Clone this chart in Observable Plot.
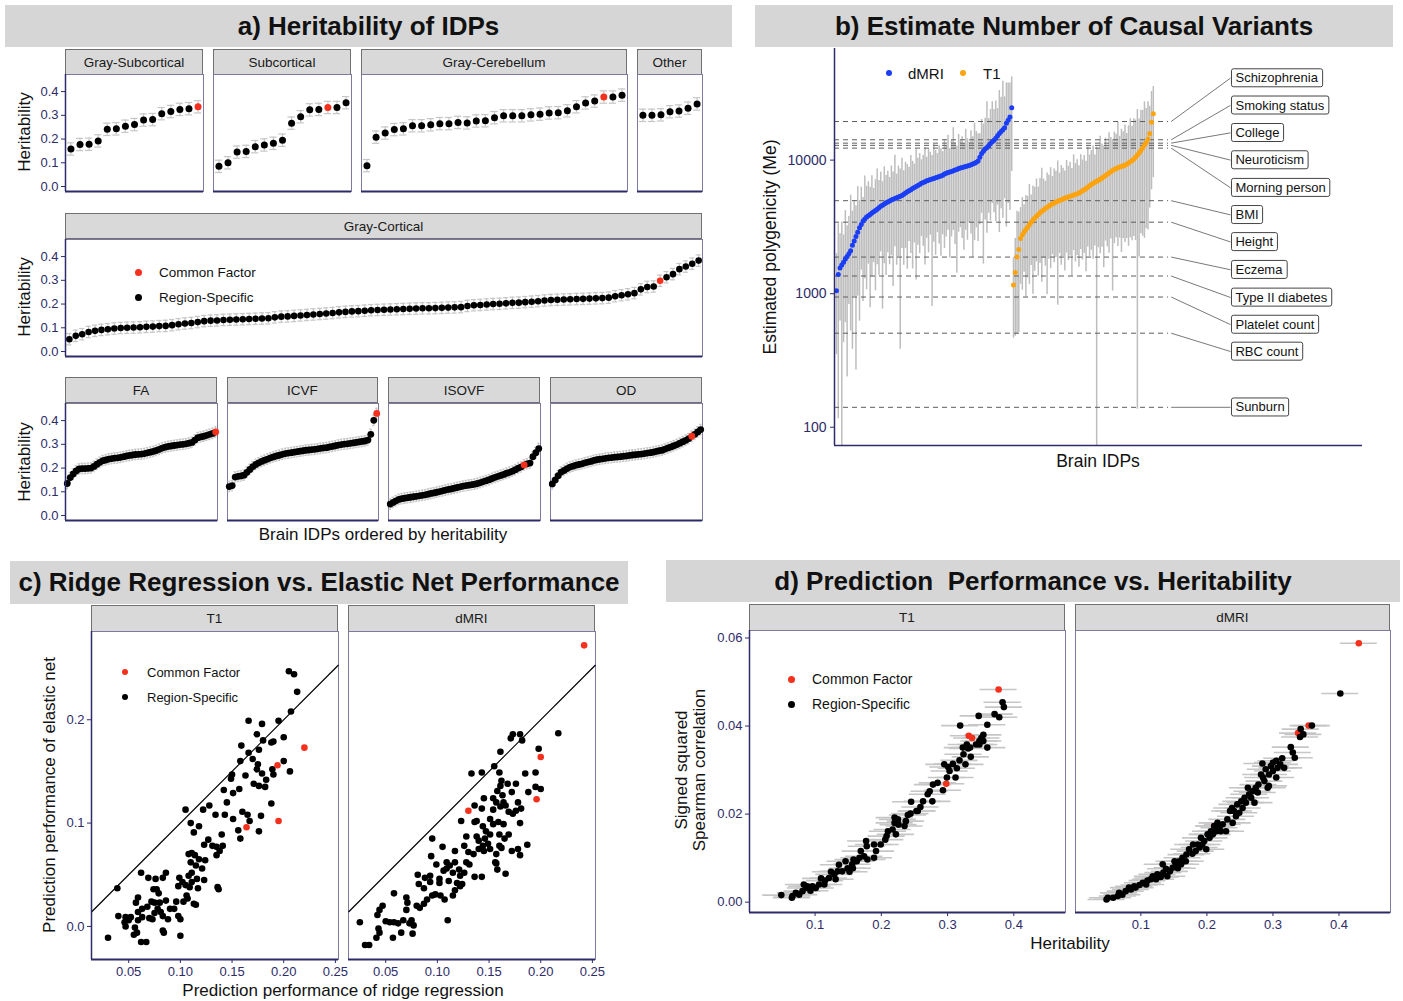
<!DOCTYPE html>
<html><head><meta charset="utf-8">
<script src="https://cdn.jsdelivr.net/npm/d3@7"></script>
<script src="https://cdn.jsdelivr.net/npm/@observablehq/plot@0.6"></script>
<style>
body{margin:0;background:#fff;}
#root{position:relative;width:1403px;height:1001px;overflow:hidden;background:#fff;font-family:"Liberation Sans",Arial,Helvetica,sans-serif;color:#111;}
.bar{position:absolute;background:#d6d6d6;display:flex;align-items:center;justify-content:center;font-weight:bold;font-size:26px;color:#111;white-space:pre;}
.strip{position:absolute;background:#d9d9d9;border:1px solid #707070;box-sizing:border-box;display:flex;align-items:center;justify-content:center;font-size:13.5px;color:#1a1a1a;}
.lab{position:absolute;white-space:nowrap;font-size:17px;color:#111;transform:translate(-50%,-50%);text-align:center;line-height:18px;}
.vlab{position:absolute;white-space:nowrap;font-size:17px;color:#111;transform:translate(-50%,-50%) rotate(-90deg);text-align:center;line-height:18px;}
.leg{position:absolute;white-space:nowrap;font-size:13.5px;color:#111;transform:translateY(-50%);}
.dot{position:absolute;border-radius:50%;}
</style>
</head><body><div id="root"></div>
<script>
// ---------------- DATA ----------------
// a) heritability per facet (sorted), common factor index per facet
const graySubcorticalH = [0.158,0.177,0.178,0.192,0.241,0.243,0.254,0.261,0.280,0.282,0.307,0.316,0.325,0.328,0.336];
const subcorticalH = [0.085,0.100,0.145,0.148,0.168,0.175,0.182,0.195,0.267,0.294,0.323,0.325,0.333,0.333,0.353];
const grayCerebellumH = [0.088,0.208,0.225,0.240,0.243,0.256,0.256,0.260,0.265,0.265,0.270,0.268,0.276,0.277,0.290,0.298,0.298,0.298,0.302,0.305,0.310,0.311,0.319,0.336,0.352,0.360,0.377,0.377,0.385];
const otherH = [0.300,0.300,0.302,0.315,0.318,0.330,0.348];
const grayCorticalH = [0.052,0.066,0.073,0.082,0.087,0.091,0.094,0.097,0.099,0.100,
 0.101,0.102,0.104,0.105,0.107,0.108,0.111,0.115,0.118,0.120,
 0.124,0.128,0.130,0.131,0.133,0.134,0.135,0.136,0.137,0.138,
 0.139,0.140,0.144,0.147,0.148,0.150,0.152,0.154,0.156,0.158,
 0.160,0.162,0.165,0.167,0.169,0.170,0.172,0.174,0.175,0.176,
 0.177,0.178,0.179,0.180,0.181,0.182,0.182,0.183,0.184,0.185,
 0.186,0.187,0.192,0.195,0.196,0.198,0.200,0.201,0.203,0.205,
 0.206,0.208,0.210,0.212,0.215,0.217,0.218,0.219,0.220,0.221,
 0.222,0.223,0.224,0.225,0.227,0.233,0.237,0.241,0.246,0.262,
 0.272,0.274,0.298,0.313,0.326,0.347,0.358,0.370,0.383];
const faH = [0.135,0.160,0.175,0.188,0.196,0.198,0.198,0.199,0.200,0.207,0.216,0.224,0.231,0.234,0.238,0.240,0.242,0.243,0.245,0.248,0.251,0.253,0.255,0.257,0.258,0.259,0.261,0.264,0.267,0.270,0.274,0.279,0.284,0.288,0.291,0.293,0.295,0.297,0.299,0.300,0.302,0.305,0.308,0.318,0.328,0.331,0.334,0.338,0.342,0.346,0.352];
const icvfH = [0.122,0.126,0.162,0.165,0.167,0.170,0.182,0.194,0.206,0.215,0.222,0.228,0.233,0.238,0.243,0.247,0.251,0.254,0.258,0.261,0.263,0.265,0.267,0.269,0.271,0.273,0.275,0.276,0.278,0.279,0.281,0.283,0.285,0.286,0.289,0.291,0.294,0.297,0.299,0.301,0.302,0.304,0.306,0.308,0.310,0.312,0.314,0.318,0.342,0.401,0.430];
const isovfH = [0.048,0.055,0.062,0.068,0.071,0.073,0.075,0.077,0.079,0.081,0.083,0.085,0.087,0.090,0.093,0.095,0.098,0.101,0.104,0.107,0.110,0.112,0.115,0.118,0.121,0.124,0.126,0.128,0.130,0.132,0.135,0.139,0.143,0.147,0.151,0.156,0.161,0.165,0.169,0.173,0.178,0.182,0.187,0.193,0.200,0.205,0.213,0.218,0.221,0.248,0.265,0.282];
const odH = [0.133,0.150,0.168,0.183,0.190,0.198,0.204,0.208,0.212,0.215,0.218,0.222,0.225,0.228,0.232,0.235,0.237,0.239,0.241,0.243,0.244,0.246,0.247,0.248,0.250,0.251,0.253,0.255,0.256,0.258,0.259,0.261,0.263,0.265,0.267,0.270,0.273,0.275,0.280,0.285,0.289,0.294,0.299,0.305,0.311,0.317,0.324,0.334,0.342,0.352,0.362];
const commonIdx = {graySub:14, sub:12, cereb:26, other:-1, cortical:92, fa:50, icvf:50, isovf:46, od:47};
const hSE = {row1:0.026, row2:0.024, row3:0.022};

// b) estimated polygenicity
const dmriMe = [1050,1390,1560,1640,1720,1820,1900,1990,2100,2300,
 2480,2680,2880,3110,3300,3500,3620,3750,3830,3920,
 4020,4100,4200,4290,4400,4520,4600,4690,4790,4860,
 4940,5020,5090,5170,5230,5300,5360,5440,5550,5670,
 5790,5900,6010,6130,6230,6340,6460,6580,6700,6800,
 6900,7010,7080,7150,7220,7280,7370,7450,7530,7610,
 7720,7860,7980,8070,8150,8230,8320,8420,8520,8660,
 8740,8810,8890,8960,9050,9130,9230,9340,9480,9620,
 9850,10500,11200,11650,12100,12450,12800,13300,13700,14100,
 14600,15200,15800,16400,16900,17500,18900,19900,21000,24700];
const dmriHiF = [1.9,2.4,1.8,2.1,1.6,2.3,1.7,1.9,2.6,1.8, 2.0,1.7,2.2,1.6,1.9,1.5,2.1,1.7,1.8,1.6,
 1.9,1.5,1.7,2.0,1.6,1.8,1.5,1.9,1.6,1.7, 1.5,1.8,1.6,2.1,1.5,1.7,1.6,1.9,1.5,1.7,
 1.6,1.5,1.8,1.6,1.5,1.9,1.6,1.7,1.5,1.6, 1.8,1.5,1.7,1.6,1.5,1.8,1.6,1.5,1.7,1.6,
 1.5,1.8,1.6,1.9,1.5,1.7,2.1,1.6,1.5,1.8, 1.6,1.7,1.5,1.9,1.6,1.5,1.8,1.6,2.0,1.7,
 1.6,1.5,1.8,1.6,1.7,2.2,1.6,1.8,2.0,1.7, 1.9,1.6,2.1,1.8,2.3,1.7,2.0,1.9,1.8,1.7];
const dmriLoF = [3.0,12,2.5,30,4,3,8,2.4,4,6, 2.6,10,3,5,2.2,4,2.8,3.5,2.3,5,
 3,2.4,4,2.6,3.2,2.2,6,2.8,3.5,2.4, 3,2.6,4.5,2.3,3.2,2.8,14,2.5,3.4,2.6,
 3.8,2.4,3,4,2.6,5,2.8,3.3,2.5,3, 4.2,2.7,3.5,2.6,9,3,3.8,2.6,3.2,4,
 2.8,3.6,3,2.7,4.4,3.1,2.8,3.6,6,3, 2.8,3.4,4.2,3,3.6,2.7,3.3,5,3.8,3.1,
 4,3.2,2.8,7,3.4,4.4,3.2,3.8,2.9,3.5, 4.2,3.3,5.5,3.8,4.6,3.4,6,4.2,5,3];
const t1Me = [1160,1440,1880,2140,2590,2760,2900,3020,3150,3290,
 3420,3560,3680,3800,3920,4040,4140,4240,4340,4440,
 4530,4620,4700,4770,4850,4920,4990,5060,5120,5180,
 5240,5300,5360,5420,5480,5540,5600,5680,5780,5890,
 6010,6130,6270,6420,6560,6700,6830,6950,7060,7180,
 7340,7510,7680,7850,8020,8200,8370,8520,8660,8780,
 8870,8960,9060,9170,9320,9500,9720,9950,10200,10500,
 10900,11300,11800,12400,13000,13500,14400,15800,19200,22200];
const t1HiF = [1.6,1.8,2.2,1.9,1.7,1.9,1.6,1.8,1.7,2.0, 1.6,1.8,1.7,1.9,1.6,1.8,2.1,1.7,1.6,1.8,
 1.7,1.9,1.6,1.8,1.7,2.0,1.6,1.8,1.7,1.6, 1.9,1.7,1.8,1.6,2.0,1.7,1.8,1.6,1.9,1.7,
 1.8,1.6,2.0,1.7,1.8,1.9,1.6,1.8,1.7,2.1, 1.8,1.7,1.9,1.6,2.0,1.8,1.7,1.9,1.8,2.2,
 1.7,1.9,1.8,2.0,1.7,1.9,2.1,1.8,2.0,1.9, 2.2,1.8,2.0,1.9,2.1,1.8,1.9,1.6,1.7,1.6];
const t1LoF = [2.5,3.0,3.8,4.2,2.2,2.6,2.0,3.2,2.4,2.8, 2.1,3.6,2.5,2.2,2.9,2.4,3.4,2.3,2.7,4.5,
 2.5,3.0,2.4,2.8,2.6,6,2.5,3.1,2.7,3.5, 2.6,3.0,2.8,4,2.6,3.2,2.9,3.6,2.7,3.3,
 3,4.2,2.8,3.4,3.1,3.7,3.0,200,3.2,3.6, 3.3,4.8,3.1,3.5,4.0,3.2,8,3.6,3.3,3.9,
 3.4,4.4,3.5,3.8,3.6,4.2,3.7,4.0,3.8,4.2, 80,6,4.2,4.6,5,4.4,4.8,3.6,3.2,3];
const traitNames = ["Schizophrenia","Smoking status","College","Neuroticism","Morning person","BMI","Height","Eczema","Type II diabetes","Platelet count","RBC count","Sunburn"];
const traitMe = [19450,14200,13400,12900,12300,4970,3430,1880,1356,944,506,141];
const traitLabelMe = [41100,25700,16000,10000,6210,3890,2440,1510,937,587,369,141];

// c) ridge (x) vs elastic net (y)
const cT1Common = [[0.194,0.156],[0.220,0.173],[0.195,0.102],[0.164,0.096]];
const cT1Region = [[0.205,0.247],[0.210,0.244],[0.213,0.227],[0.207,0.208],[0.195,0.199],[0.166,0.199],[0.179,0.196],[0.174,0.186],[0.180,0.180],[0.190,0.179],[0.200,0.183],[0.188,0.178],[0.159,0.175],[0.166,0.168],[0.176,0.171],[0.170,0.162],[0.158,0.160],[0.175,0.157],[0.174,0.152],[0.179,0.148],[0.189,0.152],[0.190,0.147],[0.200,0.160],[0.206,0.150],[0.150,0.147],[0.149,0.143],[0.163,0.146],[0.157,0.133],[0.171,0.138],[0.176,0.136],[0.182,0.135],[0.183,0.142],[0.142,0.132],[0.151,0.129],[0.145,0.120],[0.188,0.119],[0.128,0.117],[0.122,0.113],[0.105,0.113],[0.134,0.108],[0.143,0.108],[0.160,0.111],[0.165,0.108],[0.167,0.102],[0.178,0.107],[0.151,0.104],[0.176,0.092],[0.158,0.085],[0.156,0.093],[0.110,0.100],[0.118,0.097],[0.113,0.091],[0.140,0.089],[0.127,0.084],[0.123,0.079],[0.131,0.078],[0.135,0.077],[0.141,0.078],[0.138,0.073],[0.135,0.069],[0.108,0.070],[0.111,0.071],[0.114,0.069],[0.118,0.065],[0.124,0.064],[0.110,0.062],[0.115,0.059],[0.121,0.056],[0.111,0.052],[0.108,0.049],[0.116,0.046],[0.123,0.045],[0.111,0.043],[0.099,0.047],[0.102,0.043],[0.098,0.039],[0.105,0.040],[0.109,0.038],[0.117,0.037],[0.136,0.038],[0.137,0.036],[0.086,0.052],[0.083,0.047],[0.076,0.046],[0.069,0.047],[0.062,0.052],[0.074,0.036],[0.077,0.036],[0.079,0.032],[0.106,0.030],[0.103,0.024],[0.107,0.027],[0.113,0.022],[0.096,0.024],[0.086,0.025],[0.080,0.023],[0.075,0.023],[0.072,0.024],[0.068,0.019],[0.059,0.028],[0.057,0.023],[0.063,0.017],[0.078,0.017],[0.075,0.013],[0.073,0.007],[0.088,0.007],[0.070,0.008],[0.059,0.014],[0.052,0.009],[0.047,0.009],[0.040,0.010],[0.046,0.004],[0.047,0.000],[0.059,0.006],[0.056,-0.001],[0.058,-0.006],[0.055,-0.008],[0.062,-0.015],[0.067,-0.015],[0.083,-0.004],[0.084,-0.006],[0.098,0.010],[0.100,0.007],[0.100,-0.009],[0.039,0.037],[0.030,-0.011],[0.115,0.021],[0.090,0.017],[0.094,0.017],[0.081,0.014],[0.083,0.010],[0.063,0.009],[0.050,0.006]];
const cDmriCommon = [[0.242,0.272],[0.200,0.164],[0.196,0.123],[0.130,0.112]];
const cDmriRegion = [[0.217,0.187],[0.173,0.186],[0.171,0.182],[0.180,0.186],[0.182,0.180],[0.198,0.172],[0.161,0.169],[0.155,0.155],[0.143,0.149],[0.133,0.148],[0.160,0.149],[0.185,0.148],[0.195,0.149],[0.162,0.141],[0.168,0.138],[0.176,0.138],[0.161,0.136],[0.163,0.127],[0.172,0.130],[0.158,0.131],[0.195,0.135],[0.200,0.133],[0.188,0.130],[0.145,0.124],[0.154,0.124],[0.157,0.120],[0.164,0.120],[0.178,0.120],[0.166,0.117],[0.161,0.116],[0.136,0.117],[0.143,0.114],[0.154,0.113],[0.169,0.111],[0.176,0.112],[0.181,0.114],[0.123,0.102],[0.136,0.101],[0.138,0.102],[0.144,0.097],[0.151,0.104],[0.159,0.101],[0.164,0.099],[0.173,0.109],[0.180,0.100],[0.147,0.092],[0.151,0.089],[0.128,0.087],[0.138,0.087],[0.160,0.089],[0.169,0.089],[0.165,0.085],[0.160,0.078],[0.162,0.076],[0.095,0.085],[0.105,0.077],[0.117,0.073],[0.126,0.078],[0.130,0.072],[0.135,0.070],[0.140,0.075],[0.145,0.073],[0.149,0.080],[0.144,0.078],[0.172,0.073],[0.178,0.075],[0.180,0.069],[0.187,0.079],[0.094,0.068],[0.099,0.060],[0.109,0.062],[0.112,0.059],[0.117,0.062],[0.121,0.055],[0.126,0.052],[0.128,0.062],[0.131,0.060],[0.136,0.048],[0.143,0.048],[0.157,0.061],[0.158,0.055],[0.166,0.051],[0.081,0.050],[0.088,0.047],[0.093,0.043],[0.082,0.041],[0.102,0.046],[0.102,0.042],[0.111,0.044],[0.119,0.042],[0.124,0.041],[0.122,0.039],[0.087,0.037],[0.098,0.031],[0.103,0.030],[0.107,0.026],[0.117,0.035],[0.115,0.030],[0.058,0.032],[0.070,0.028],[0.071,0.023],[0.080,0.020],[0.083,0.018],[0.087,0.022],[0.090,0.026],[0.095,0.030],[0.047,0.020],[0.044,0.016],[0.042,0.011],[0.070,0.016],[0.075,0.006],[0.067,0.006],[0.050,0.005],[0.054,0.004],[0.058,0.004],[0.062,0.003],[0.073,0.003],[0.077,0.001],[0.110,0.006],[0.025,0.004],[0.043,-0.002],[0.044,-0.006],[0.065,-0.006],[0.076,-0.007],[0.041,-0.011],[0.057,-0.011],[0.034,-0.018],[0.030,-0.018],[0.154,0.099],[0.146,0.085],[0.140,0.083],[0.151,0.075],[0.157,0.070],[0.156,0.062],[0.115,0.052],[0.109,0.056],[0.106,0.054],[0.122,0.049],[0.093,0.049]];

// d) heritability (x) vs signed squared spearman correlation (y)
const dT1Common = [[0.377,0.0483],[0.332,0.0378],[0.337,0.0373],[0.298,0.0269]];
const dT1Region = [[0.383,0.0454],[0.385,0.0443],[0.347,0.0423],[0.371,0.0427],[0.378,0.0420],[0.319,0.0401],[0.360,0.0403],[0.354,0.0380],[0.354,0.0366],[0.348,0.0358],[0.360,0.0351],[0.329,0.0358],[0.331,0.0349],[0.334,0.0351],[0.324,0.0336],[0.335,0.0330],[0.318,0.0322],[0.327,0.0313],[0.308,0.0314],[0.301,0.0307],[0.314,0.0304],[0.312,0.0283],[0.299,0.0283],[0.293,0.0254],[0.303,0.0298],[0.278,0.0267],[0.273,0.0252],[0.270,0.0245],[0.277,0.0229],[0.245,0.0228],[0.263,0.0229],[0.259,0.0216],[0.255,0.0207],[0.244,0.0201],[0.240,0.0198],[0.225,0.0188],[0.220,0.0180],[0.226,0.0176],[0.235,0.0173],[0.217,0.0165],[0.222,0.0154],[0.210,0.0161],[0.208,0.0150],[0.206,0.0142],[0.199,0.0131],[0.189,0.0131],[0.177,0.0139],[0.178,0.0127],[0.192,0.0116],[0.169,0.0116],[0.174,0.0104],[0.167,0.0101],[0.158,0.0097],[0.163,0.0093],[0.156,0.0086],[0.149,0.0077],[0.152,0.0069],[0.141,0.0070],[0.189,0.0101],[0.179,0.0097],[0.134,0.0070],[0.129,0.0063],[0.131,0.0052],[0.121,0.0055],[0.115,0.0049],[0.114,0.0040],[0.106,0.0040],[0.101,0.0032],[0.096,0.0036],[0.093,0.0026],[0.086,0.0032],[0.083,0.0040],[0.081,0.0025],[0.076,0.0017],[0.066,0.0014],[0.065,0.0010],[0.049,0.0016],[0.146,0.0093],[0.157,0.0077],[0.220,0.0192],[0.237,0.0184],[0.253,0.0207],[0.285,0.0271],[0.295,0.0313],[0.323,0.0351],[0.343,0.0358],[0.348,0.0366],[0.351,0.0373],[0.136,0.0085],[0.124,0.0069],[0.109,0.0054],[0.088,0.0036],[0.071,0.0021]];
const dDmriCommon = [[0.430,0.0588],[0.354,0.0401],[0.338,0.0384],[0.211,0.0173]];
const dDmriRegion = [[0.402,0.0474],[0.359,0.0401],[0.342,0.0393],[0.346,0.0381],[0.341,0.0375],[0.327,0.0352],[0.330,0.0340],[0.333,0.0328],[0.314,0.0327],[0.305,0.0321],[0.300,0.0317],[0.284,0.0315],[0.311,0.0313],[0.317,0.0305],[0.307,0.0305],[0.300,0.0298],[0.294,0.0290],[0.305,0.0283],[0.294,0.0264],[0.285,0.0283],[0.278,0.0267],[0.274,0.0260],[0.269,0.0252],[0.264,0.0245],[0.277,0.0249],[0.272,0.0226],[0.259,0.0226],[0.254,0.0214],[0.249,0.0203],[0.244,0.0195],[0.238,0.0214],[0.235,0.0207],[0.231,0.0188],[0.224,0.0177],[0.219,0.0169],[0.214,0.0161],[0.209,0.0154],[0.204,0.0146],[0.196,0.0139],[0.193,0.0131],[0.189,0.0124],[0.183,0.0116],[0.178,0.0110],[0.173,0.0120],[0.169,0.0108],[0.163,0.0101],[0.158,0.0093],[0.153,0.0086],[0.148,0.0078],[0.144,0.0070],[0.138,0.0076],[0.134,0.0067],[0.130,0.0057],[0.125,0.0063],[0.119,0.0055],[0.115,0.0052],[0.110,0.0049],[0.103,0.0044],[0.098,0.0039],[0.092,0.0033],[0.085,0.0029],[0.077,0.0025],[0.072,0.0017],[0.065,0.0014],[0.058,0.0010],[0.050,0.0010],[0.048,0.0006],[0.297,0.0309],[0.289,0.0302],[0.282,0.0290],[0.287,0.0275],[0.292,0.0260],[0.267,0.0237],[0.262,0.0260],[0.257,0.0237],[0.252,0.0229],[0.246,0.0222],[0.241,0.0207],[0.239,0.0180],[0.229,0.0161],[0.221,0.0161],[0.216,0.0180],[0.211,0.0173],[0.206,0.0161],[0.201,0.0154],[0.199,0.0120],[0.191,0.0146],[0.186,0.0131],[0.179,0.0131],[0.168,0.0093],[0.161,0.0086],[0.156,0.0077],[0.151,0.0093],[0.140,0.0059],[0.133,0.0086],[0.123,0.0052],[0.118,0.0059],[0.108,0.0040],[0.090,0.0036],[0.082,0.0033],[0.067,0.0021]];
const dErr = 0.028;

// ---------------- STYLE ----------------
const FONT = '"Liberation Sans", Arial, Helvetica, sans-serif';
const RED = "#f5301c", BLUE = "#1a3df5", ORANGE = "#fca30e";
const NAVY = "#2d2b68", BORDER = "#7c7a9e", ERR = "#c6c6c6";

const root = document.getElementById("root");
function el(cls, html, css) {
  const d = document.createElement("div");
  d.className = cls; d.innerHTML = html; Object.assign(d.style, css);
  root.appendChild(d); return d;
}
const px = v => v + "px";
function bar(text, l, t, w, h) { el("bar", text, {left:px(l), top:px(t), width:px(w), height:px(h)}); }
function strip(text, l, t, w, h) { el("strip", text, {left:px(l), top:px(t), width:px(w), height:px(h)}); }
function label(text, cx, cy, rot, size) { el(rot ? "vlab" : "lab", text, {left:px(cx), top:px(cy), fontSize:px(size || 17)}); }
function legend(x, y, items, gap, r, tx, size) {
  items.forEach(([c, t], i) => {
    const cy = y + i * gap;
    el("dot", "", {left:px(x - r), top:px(cy - r), width:px(2*r), height:px(2*r), background:c});
    if (t) el("leg", t, {left:px(tx), top:px(cy), fontSize:px(size)});
  });
}
function mkPlot({area:[l, t, w, h], mL=0, mR=0, mT=0, mB=0, x, y, marks}) {
  const p = Plot.plot({
    width: w + mL + mR, height: h + mT + mB,
    marginLeft: mL, marginRight: mR, marginTop: mT, marginBottom: mB,
    x, y, marks,
    style: {fontFamily: FONT, background: "transparent", overflow: "visible"}
  });
  p.style.position = "absolute"; p.style.left = px(l - mL); p.style.top = px(t - mT);
  p.style.maxWidth = "none";
  root.appendChild(p);
  return p;
}

// ---------------- PANEL A ----------------
bar("a) Heritability of IDPs", 5, 5, 727, 42);
const HDOM = [-0.021, 0.472];
function herit(vals, cf, se, area, r, axis) {
  const rows = vals.map((v, i) => ({i, v, common: i === cf}));
  const xd = [-0.6, vals.length - 0.4];
  const cap = 0.4;
  const marks = [
    Plot.frame({stroke: BORDER}),
    Plot.ruleX(rows, {x: "i", y1: d => d.v - se, y2: d => d.v + se, stroke: ERR, strokeWidth: 1.2}),
    Plot.ruleY(rows, {y: d => d.v + se, x1: d => d.i - cap, x2: d => d.i + cap, stroke: ERR, strokeWidth: 1.2}),
    Plot.ruleY(rows, {y: d => d.v - se, x1: d => d.i - cap, x2: d => d.i + cap, stroke: ERR, strokeWidth: 1.2}),
    Plot.dot(rows.filter(d => !d.common), {x: "i", y: "v", r, fill: "black"}),
    Plot.dot(rows.filter(d => d.common), {x: "i", y: "v", r, fill: RED}),
    Plot.ruleY([HDOM[0]], {stroke: NAVY, strokeWidth: 2})
  ];
  if (axis) {
    marks.push(Plot.ruleX([xd[0]], {stroke: NAVY, strokeWidth: 1.5}));
    marks.push(Plot.axisY({ticks: [0, 0.1, 0.2, 0.3, 0.4], tickFormat: d3.format(".1f"), tickSize: 4, tickPadding: 3, color: NAVY, fontSize: 13, label: null}));
  }
  mkPlot({area, mL: axis ? 45 : 0, x: {domain: xd, axis: null}, y: axis ? {domain: HDOM, label: null} : {domain: HDOM, axis: null}, marks});
}
// row 1
const r1t = 74, r1h = 117;
strip("Gray-Subcortical", 65, 49, 138, 26); herit(graySubcorticalH, commonIdx.graySub, hSE.row1, [65, r1t, 138, r1h], 3.5, true);
strip("Subcortical", 213, 49, 138, 26); herit(subcorticalH, commonIdx.sub, hSE.row1, [213, r1t, 138, r1h], 3.5, false);
strip("Gray-Cerebellum", 361, 49, 266, 26); herit(grayCerebellumH, commonIdx.cereb, hSE.row1, [361, r1t, 266, r1h], 3.5, false);
strip("Other", 637, 49, 65, 26); herit(otherH, commonIdx.other, hSE.row1, [637, r1t, 65, r1h], 3.5, false);
// row 2
strip("Gray-Cortical", 65, 213, 637, 26); herit(grayCorticalH, commonIdx.cortical, hSE.row2, [65, 239, 637, 117], 3.3, true);
legend(138, 272, [[RED, "Common Factor"], ["black", "Region-Specific"]], 25, 3.5, 159, 13.5);
// row 3
strip("FA", 65, 377, 152, 26); herit(faH, commonIdx.fa, hSE.row3, [65, 403, 152, 117], 3.4, true);
strip("ICVF", 227, 377, 151, 26); herit(icvfH, commonIdx.icvf, hSE.row3, [227, 403, 151, 117], 3.4, false);
strip("ISOVF", 388, 377, 152, 26); herit(isovfH, commonIdx.isovf, hSE.row3, [388, 403, 152, 117], 3.4, false);
strip("OD", 550, 377, 152, 26); herit(odH, commonIdx.od, hSE.row3, [550, 403, 152, 117], 3.4, false);
label("Heritability", 25, 132, true);
label("Heritability", 25, 297, true);
label("Heritability", 25, 462, true);
label("Brain IDPs ordered by heritability", 383, 535, false);

// ---------------- PANEL B ----------------
bar("b) Estimate Number of Causal Variants", 755, 5, 638, 42);
const bRowsD = dmriMe.map((me, i) => ({k: i, me, lo: me / dmriLoF[i], hi: me * dmriHiF[i]}));
const bRowsT = t1Me.map((me, j) => ({k: dmriMe.length + j, me, lo: me / t1LoF[j], hi: me * t1HiF[j]}));
const traits = traitNames.map((name, i) => ({name, me: traitMe[i], lab: traitLabelMe[i]}));
const BX = [-1.13, 297.2], DASH_END = 187.6, BOX_X = 222.6, BYD = [73, 68500];
const bSvg = mkPlot({
  area: [834, 48, 528, 397], mL: 62, mR: 4, mT: 0, mB: 2,
  x: {domain: BX, axis: null},
  y: {type: "log", domain: BYD, label: null},
  marks: [
    Plot.ruleX([...bRowsD, ...bRowsT], {x: "k", y1: "lo", y2: "hi", stroke: "#bdbdbd", strokeWidth: 1.5, clip: true}),
    Plot.ruleY(traits, {y: "me", x1: BX[0], x2: DASH_END, stroke: "#5e5e5e", strokeWidth: 1, strokeDasharray: "5,4"}),
    Plot.link(traits, {x1: DASH_END + 1.5, y1: "me", x2: BOX_X, y2: "lab", stroke: "#555", strokeWidth: 0.8}),
    Plot.dot(bRowsD, {x: "k", y: "me", r: 2.5, fill: BLUE}),
    Plot.dot(bRowsT, {x: "k", y: "me", r: 2.5, fill: ORANGE}),
    Plot.text(traits, {x: BOX_X, y: "lab", text: "name", textAnchor: "start", dx: 5, fontSize: 13, fill: "#111"}),
    Plot.ruleX([BX[0]], {stroke: NAVY, strokeWidth: 1.5}),
    Plot.ruleY([BYD[0]], {stroke: NAVY, strokeWidth: 1.5}),
    Plot.axisY({ticks: [100, 1000, 10000], tickFormat: d => String(d), tickSize: 4, tickPadding: 4, color: NAVY, fontSize: 14, label: null})
  ]
});
// boxes behind the trait labels, sized from each rendered label
const SVGNS = "http://www.w3.org/2000/svg";
Array.from(bSvg.querySelectorAll("text"))
  .filter(t => traitNames.includes(t.textContent))
  .forEach(t => {
    const bb = t.getBBox();
    const r = document.createElementNS(SVGNS, "rect");
    r.setAttribute("x", bb.x - 4); r.setAttribute("y", bb.y - 1.5);
    r.setAttribute("width", bb.width + 8); r.setAttribute("height", bb.height + 3);
    r.setAttribute("rx", 2);
    r.setAttribute("style", "fill:#fff;stroke:#444;stroke-width:1");
    const tr = t.getAttribute("transform");
    if (tr) r.setAttribute("transform", tr);
    t.parentNode.insertBefore(r, t);
  });
legend(889, 73, [[BLUE, ""]], 0, 3, 908, 15);
el("leg", "dMRI", {left: px(908), top: px(73), fontSize: px(15)});
legend(963, 73, [[ORANGE, ""]], 0, 3, 983, 15);
el("leg", "T1", {left: px(983), top: px(73), fontSize: px(15)});
label("Estimated polygenicity (Me)", 770, 247, true, 17.5);
label("Brain IDPs", 1098, 461, false, 17.5);

// ---------------- PANEL C ----------------
bar("c) Ridge Regression vs. Elastic Net Performance", 10, 561, 618, 43);
const CX = [0.014, 0.253], CY = [-0.032, 0.2854];
function scatterC(region, common, area, axis) {
  const marks = [
    Plot.frame({stroke: BORDER}),
    Plot.link([0], {x1: CX[0], y1: CX[0], x2: CX[1], y2: CX[1], stroke: "black", strokeWidth: 1.2}),
    Plot.dot(region, {x: d => d[0], y: d => d[1], r: 3.3, fill: "black"}),
    Plot.dot(common, {x: d => d[0], y: d => d[1], r: 3.3, fill: RED}),
    Plot.ruleY([CY[0]], {stroke: NAVY, strokeWidth: 2}),
    Plot.axisX({ticks: [0.05, 0.10, 0.15, 0.20, 0.25], tickFormat: d3.format(".2f"), tickSize: 4, tickPadding: 3, color: NAVY, fontSize: 13, label: null})
  ];
  if (axis) {
    marks.push(Plot.ruleX([CX[0]], {stroke: NAVY, strokeWidth: 1.5}));
    marks.push(Plot.axisY({ticks: [0, 0.1, 0.2], tickFormat: d3.format(".1f"), tickSize: 4, tickPadding: 3, color: NAVY, fontSize: 13, label: null}));
  }
  mkPlot({area, mL: axis ? 40 : 2, mR: 6, mB: 24, x: {domain: CX, label: null}, y: axis ? {domain: CY, label: null} : {domain: CY, axis: null}, marks});
}
strip("T1", 91, 605, 247, 27); scatterC(cT1Region, cT1Common, [91, 631, 247, 328], true);
strip("dMRI", 348, 605, 247, 27); scatterC(cDmriRegion, cDmriCommon, [348, 631, 247, 328], false);
legend(125, 672, [[RED, "Common Factor"], ["black", "Region-Specific"]], 25, 3.3, 147, 13);
label("Prediction performance of elastic net", 50, 795, true);
label("Prediction performance of ridge regression", 343, 991, false);

// ---------------- PANEL D ----------------
bar("d) Prediction  Performance vs. Heritability", 666, 560, 734, 42);
const DX = [0.001, 0.478], DY = [-0.00235, 0.0617];
function scatterD(region, common, area, axis) {
  const all = [...common, ...region];
  const marks = [
    Plot.frame({stroke: BORDER}),
    Plot.ruleY(all, {y: d => d[1], x1: d => d[0] - dErr, x2: d => d[0] + dErr, stroke: ERR, strokeWidth: 1.6}),
    Plot.dot(common, {x: d => d[0], y: d => d[1], r: 3.3, fill: RED}),
    Plot.dot(region, {x: d => d[0], y: d => d[1], r: 3.3, fill: "black"}),
    Plot.ruleY([DY[0]], {stroke: NAVY, strokeWidth: 2}),
    Plot.axisX({ticks: [0.1, 0.2, 0.3, 0.4], tickFormat: d3.format(".1f"), tickSize: 4, tickPadding: 3, color: NAVY, fontSize: 13, label: null})
  ];
  if (axis) {
    marks.push(Plot.ruleX([DX[0]], {stroke: NAVY, strokeWidth: 1.5}));
    marks.push(Plot.axisY({ticks: [0, 0.02, 0.04, 0.06], tickFormat: d3.format(".2f"), tickSize: 4, tickPadding: 3, color: NAVY, fontSize: 13, label: null}));
  }
  mkPlot({area, mL: axis ? 48 : 2, mR: 4, mB: 24, x: {domain: DX, label: null}, y: axis ? {domain: DY, label: null} : {domain: DY, axis: null}, marks});
}
strip("T1", 749, 604, 316, 27); scatterD(dT1Region, dT1Common, [749, 630, 316, 282], true);
strip("dMRI", 1075, 604, 315, 27); scatterD(dDmriRegion, dDmriCommon, [1075, 630, 315, 282], false);
legend(791, 679, [[RED, "Common Factor"], ["black", "Region-Specific"]], 25, 3.5, 812, 14);
label("Signed squared<br>Spearman correlation", 691, 770, true);
label("Heritability", 1070, 944, false);
</script>
</body></html>
